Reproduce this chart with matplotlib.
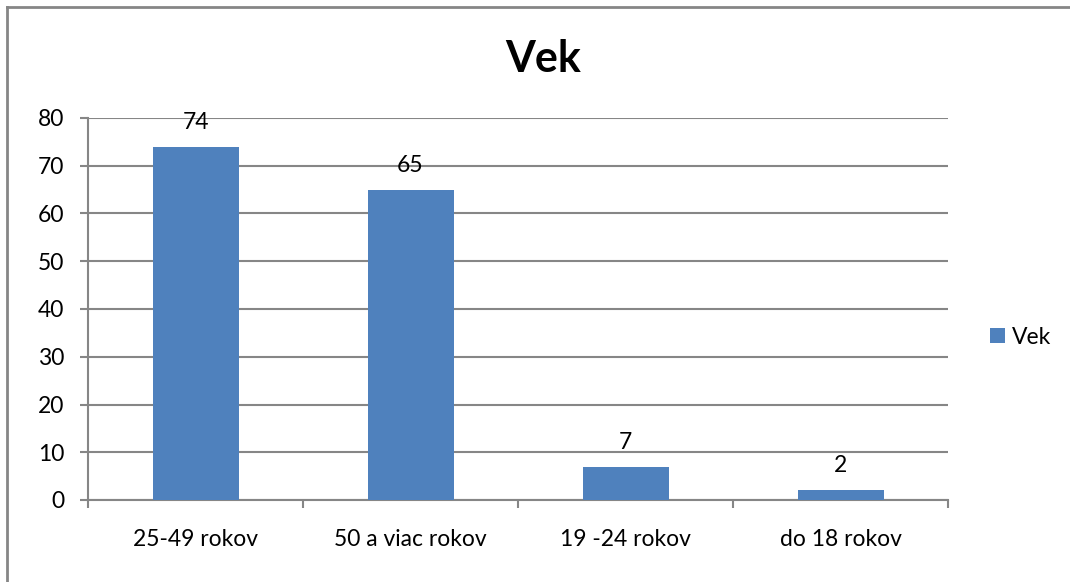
import matplotlib
matplotlib.use("Agg")
import matplotlib.pyplot as plt
from matplotlib.lines import Line2D
from matplotlib.patches import Patch

categories = ["25-49 rokov", "50 a viac rokov", "19 -24 rokov", "do 18 rokov"]
values = [74, 65, 7, 2]
series_name = "Vek"
title = "Vek"
yticks = [0, 10, 20, 30, 40, 50, 60, 70, 80]

W, H = 1070, 582
DPI = 100
plt.rcParams['font.family'] = ['Lato', 'DejaVu Sans']
fig = plt.figure(figsize=(W / DPI, H / DPI), dpi=DPI)
fig.patch.set_facecolor('white')

def px(x):
    return x * 72 / DPI

FS = 16.5
ax = fig.add_axes([88 / W, (H - 500) / H, (948 - 88) / W, (500 - 118) / H])
gray = '#868686'
bar_color = '#4F81BD'

xs = [i + 0.5 for i in range(len(categories))]
bars = ax.bar(xs, values, width=0.4, color=bar_color, zorder=3)
ax.set_xlim(0, len(categories))
ax.set_ylim(0, 80)
ax.set_yticks(yticks)
ax.set_yticklabels([str(t) for t in yticks])
ax.set_xticks(xs)
ax.set_xticklabels(categories)
ax.set_xticks(range(len(categories) + 1), minor=True)
ax.tick_params(axis='x', which='major', length=0, pad=px(29), labelsize=FS)
ax.tick_params(axis='x', which='minor', length=px(8), width=1.5, color=gray, direction='out')
ax.tick_params(axis='y', length=px(8), width=1.5, color=gray, pad=px(16), labelsize=FS)
for t in ax.get_xticklabels():
    t.set_verticalalignment('top')

ax.yaxis.grid(True, color=gray, linewidth=1.5, zorder=0)
ax.set_axisbelow(True)
for s in ['top', 'right']:
    ax.spines[s].set_visible(False)
for s in ['left', 'bottom']:
    ax.spines[s].set_color(gray)
    ax.spines[s].set_linewidth(1.5)

for x, v in zip(xs, values):
    ax.annotate(str(v), xy=(x, v), xytext=(0, px(18)), textcoords='offset points',
                ha='center', va='baseline', fontsize=FS, zorder=4)

fig.text(543 / W, (H - 72) / H, title, ha='center', va='baseline',
         fontsize=31, fontweight='bold')

leg = fig.legend(handles=[Patch(facecolor=bar_color, edgecolor='none', label=series_name)],
                 loc='center left', bbox_to_anchor=(990 / W, (H - 337) / H),
                 frameon=False, fontsize=FS, handlelength=0.65, handleheight=0.65,
                 handletextpad=0.3, borderpad=0, borderaxespad=0)

# outer chart border (left and top visible)
fig.add_artist(Line2D([7 / W, 7 / W], [0, (H - 7) / H], transform=fig.transFigure,
                      color=gray, linewidth=2))
fig.add_artist(Line2D([7 / W, 1], [(H - 7) / H, (H - 7) / H], transform=fig.transFigure,
                      color=gray, linewidth=2))

fig.savefig('out.png', dpi=DPI, facecolor='white')
